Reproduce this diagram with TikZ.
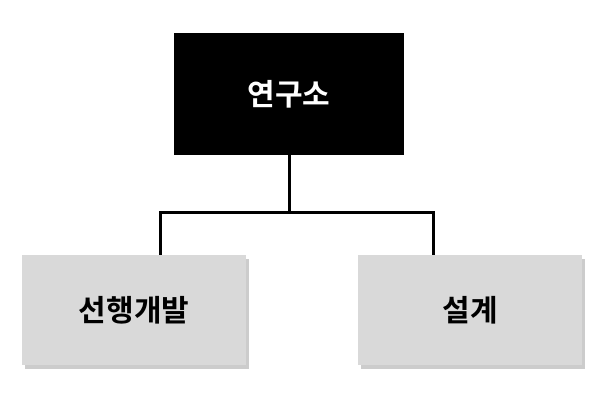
\documentclass[tikz,border=0pt]{standalone}
\usepackage{fontspec}
\newfontfamily\kr{Noto Sans CJK KR}[BoldFont={Noto Sans CJK KR Bold}]
\usetikzlibrary{shadows}
\tikzset{
  head/.style={draw=none, fill=black, text=white, minimum width=230pt, minimum height=122pt, font=\kr\bfseries\fontsize{30}{36}\selectfont},
  unit/.style={draw=none, fill=gray!30, minimum width=224pt, minimum height=110pt, font=\kr\bfseries\fontsize{30}{36}\selectfont, drop shadow={shadow xshift=3pt, shadow yshift=-4pt, opacity=0.4}},
  link/.style={line width=3pt}
}
\begin{document}
\begin{tikzpicture}[x=1pt, y=-1pt]
    \useasboundingbox (0,0) rectangle (611,401);
    \node (lab) at (289, 94) [head] {연구소};
    \node (pre) at (134, 310) [unit] {선행개발};
    \node (des) at (470, 310) [unit] {설계};
    \coordinate (mid) at (289, 213);

    \draw[link] (lab.south) -- (mid);
    \draw[link] (pre.north -| 160,0) |- (mid) -| (des.north -| 433,0);
\end{tikzpicture}
\end{document}
